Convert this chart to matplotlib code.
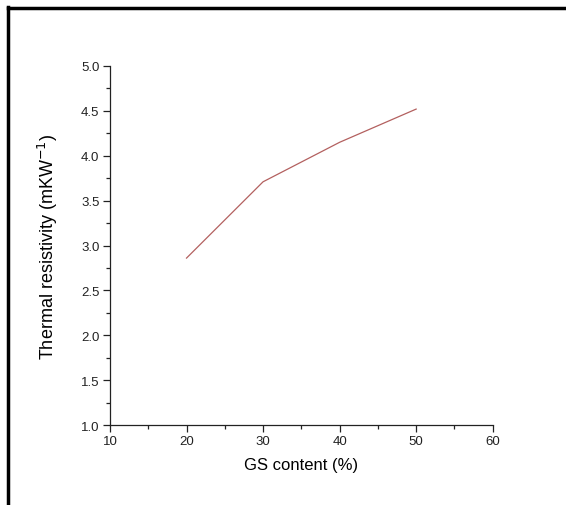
import matplotlib
matplotlib.use('Agg')
import matplotlib.pyplot as plt
from matplotlib.lines import Line2D
from matplotlib.ticker import MultipleLocator, FormatStrFormatter

plt.rcParams['font.family'] = ['Liberation Sans', 'DejaVu Sans']

# data
gs_content = [20, 30, 40, 50]
resistivity = [2.86, 3.71, 4.15, 4.52]
x_ticks = [10, 20, 30, 40, 50, 60]

fig = plt.figure(figsize=(5.66, 5.06), dpi=100)
ax = fig.add_axes([0.1943, 0.158, 0.6762, 0.7096])

ax.plot(gs_content, resistivity, color='#b3605f', lw=0.9)

ax.set_xlim(10, 60)
ax.set_ylim(1.0, 5.0)
ax.set_xticks(x_ticks, labels=[str(t) for t in x_ticks])
ax.xaxis.set_minor_locator(MultipleLocator(5))
ax.yaxis.set_major_locator(MultipleLocator(0.5))
ax.yaxis.set_minor_locator(MultipleLocator(0.25))
ax.yaxis.set_major_formatter(FormatStrFormatter('%.1f'))

for s in ['top', 'right']:
    ax.spines[s].set_visible(False)
for s in ['left', 'bottom']:
    ax.spines[s].set_linewidth(0.9)
    ax.spines[s].set_color('#222222')

ax.tick_params(which='major', direction='out', length=5, width=0.9, labelsize=9.5, colors='#222222', pad=2.5)
ax.tick_params(which='minor', direction='out', length=3, width=0.9, colors='#222222')

ax.set_xlabel('GS content (%)', fontsize=12, labelpad=7)
ax.set_ylabel('Thermal resistivity (mKW$^{-1}$)', fontsize=13, labelpad=15)

# outer frame of the figure (only top and left edges show)
fig.add_artist(Line2D([7.5 / 566, 1], [1 - 9 / 506, 1 - 9 / 506], transform=fig.transFigure, color='black', lw=2.5))
fig.add_artist(Line2D([8 / 566, 8 / 566], [0, 1 - 8 / 506], transform=fig.transFigure, color='black', lw=2.5))

fig.savefig('out.png', dpi=100)
